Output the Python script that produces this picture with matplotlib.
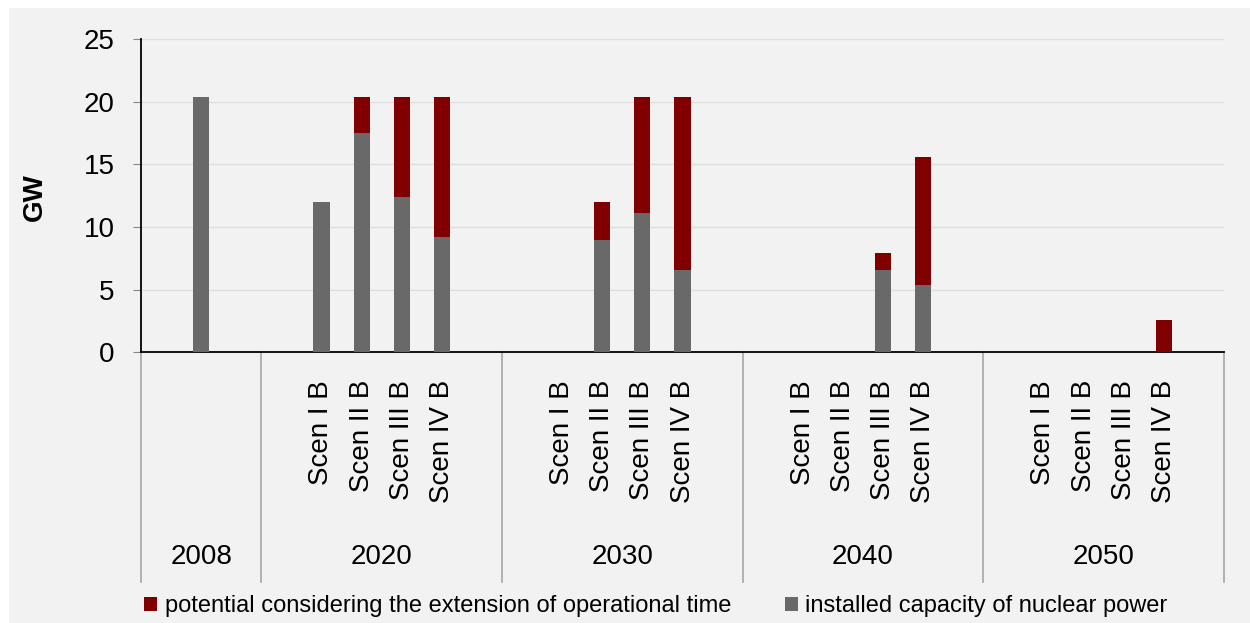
import matplotlib
matplotlib.use("Agg")
import matplotlib.pyplot as plt
from matplotlib.patches import Rectangle, Patch
from matplotlib.transforms import blended_transform_factory
import numpy as np

plt.rcParams["font.family"] = ["Liberation Sans", "DejaVu Sans"]

_GREY, _RED, _BG = "#696969", "#800000", "#f2f2f2"

years = ["2008", "2020", "2030", "2040", "2050"]
scenarios = ["Scen I B", "Scen II B", "Scen III B", "Scen IV B"]

# 2008 is a single bar; later years have one bar per scenario
installed_2008 = 20.4
installed = {
    "2020": [12.0, 17.5, 12.4, 9.2],
    "2030": [0.0, 9.0, 11.1, 6.6],
    "2040": [0.0, 0.0, 6.6, 5.4],
    "2050": [0.0, 0.0, 0.0, 0.0],
}
extension = {
    "2020": [0.0, 2.9, 8.0, 11.2],
    "2030": [0.0, 3.0, 9.3, 13.8],
    "2040": [0.0, 0.0, 1.3, 10.2],
    "2050": [0.0, 0.0, 0.0, 2.6],
}

W, H = 1250, 623
fig = plt.figure(figsize=(W / 100, H / 100), dpi=100, facecolor="white")
fig.patches.append(Rectangle((9 / W, 0), 1, 1 - 8 / H, transform=fig.transFigure,
                             facecolor=_BG, edgecolor="none", zorder=-10))

ax = fig.add_axes([141 / W, 1 - 352.3 / H, 1083 / W, 313.3 / H])
ax.set_facecolor(_BG)

# slot layout: 2008 group is 3 slots wide, scenario groups 6 slots wide
first_w, group_w = 3, 6
x_2008 = first_w / 2
group_starts = [first_w + group_w * g for g in range(len(years) - 1)]

bw = 0.4
ax.bar([x_2008], [installed_2008], width=bw, color=_GREY, zorder=3)
ax.bar([x_2008], [0.0], bottom=[installed_2008], width=bw, color=_RED, zorder=3)
for start, yr in zip(group_starts, years[1:]):
    xs = start + 1.5 + np.arange(len(scenarios))
    base = np.array(installed[yr])
    ax.bar(xs, base, width=bw, color=_GREY, zorder=3)
    ax.bar(xs, extension[yr], bottom=base, width=bw, color=_RED, zorder=3)

total_slots = first_w + group_w * (len(years) - 1)
ax.set_xlim(0, total_slots)
ax.set_ylim(0, 25)
ax.set_yticks(range(0, 26, 5))
ax.tick_params(axis="y", direction="out", length=6, color="#868686",
               labelsize=20, pad=13)
ax.tick_params(axis="x", bottom=False, labelbottom=False)
ax.grid(axis="y", color="#dedede", lw=1, zorder=0)
for side in ("top", "right"):
    ax.spines[side].set_visible(False)
for side in ("left", "bottom"):
    ax.spines[side].set_color("black")
    ax.spines[side].set_linewidth(1.3)

# multi-level category labels below the axis
trans = blended_transform_factory(ax.transData, ax.transAxes)
sep_bottom = -(582 - 352.3) / 313.3
scen_top = -(380 - 352.3) / 313.3
year_y = -(557 - 352.3) / 313.3

for xb in [0] + group_starts + [total_slots]:
    ax.plot([xb, xb], [0, sep_bottom], transform=trans, color="#a6a6a6",
            lw=1.2, clip_on=False)

ax.text(x_2008, year_y, years[0], transform=trans, ha="center", va="center",
        fontsize=20)
for start, yr in zip(group_starts, years[1:]):
    ax.text(start + group_w / 2, year_y, yr, transform=trans, ha="center",
            va="center", fontsize=20)
    for i, sc in enumerate(scenarios):
        ax.text(start + 1.5 + i, scen_top, sc, transform=trans, rotation=90,
                ha="center", va="top", fontsize=20)

fig.text(35 / W, 1 - 197 / H, "GW", rotation=90, ha="center", va="center",
         fontsize=20, fontweight="bold")

handles = [Patch(facecolor=_RED, label="potential considering the extension of operational time"),
           Patch(facecolor=_GREY, label="installed capacity of nuclear power")]
fig.legend(handles=handles, loc="center", bbox_to_anchor=(656 / W, 1 - 606 / H),
           ncol=2, frameon=False, fontsize=17, handlelength=0.55, handleheight=0.55,
           handletextpad=0.3, columnspacing=2.3, borderpad=0)

fig.savefig("out.png", dpi=100, facecolor="white")
